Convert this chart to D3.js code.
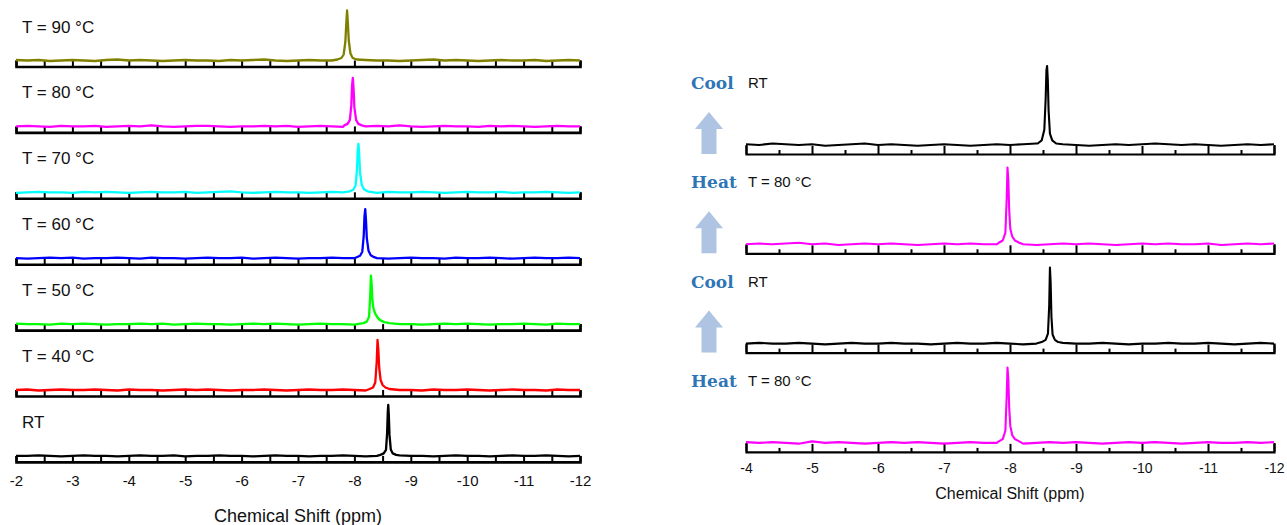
<!DOCTYPE html>
<html>
<head>
<meta charset="utf-8">
<script src="https://cdn.jsdelivr.net/npm/d3@7"></script>
<style>
  body { margin: 0; background: #fff; }
  text { font-family: "Liberation Sans", Arial, sans-serif; }
</style>
</head>
<body>
<div id="chart"></div>
<script>
var width = 1287,
  height = 525;

// ---- left stack: temperature series (ppm, relative intensity) ----
var leftLabels = ["T = 90 °C", "T = 80 °C", "T = 70 °C", "T = 60 °C", "T = 50 °C", "T = 40 °C", "RT"];
var leftColors = ["#808000", "#ff00ff", "#00ffff", "#0000ff", "#00ff00", "#ff0000", "#000000"];
var leftTicks = [-2, -3, -4, -5, -6, -7, -8, -9, -10, -11, -12];

var peak90 = [[-7.70,0.02],[-7.77,0.05],[-7.81,0.12],[-7.84,0.38],[-7.855,0.72],[-7.87,1.0],[-7.885,0.74],[-7.90,0.4],[-7.93,0.14],[-7.97,0.05],[-8.04,0.02]];
var peak80 = [[-7.82,0.02],[-7.88,0.05],[-7.92,0.13],[-7.945,0.42],[-7.958,0.8],[-7.972,0.97],[-7.985,0.75],[-8.0,0.38],[-8.03,0.13],[-8.07,0.05],[-8.13,0.02]];
var peak70 = [[-7.92,0.02],[-7.98,0.05],[-8.02,0.13],[-8.045,0.44],[-8.058,0.82],[-8.072,0.97],[-8.085,0.76],[-8.10,0.4],[-8.13,0.15],[-8.17,0.06],[-8.23,0.02]];
var peak60 = [[-8.04,0.02],[-8.10,0.05],[-8.14,0.13],[-8.165,0.44],[-8.178,0.82],[-8.192,0.98],[-8.205,0.76],[-8.22,0.4],[-8.25,0.15],[-8.29,0.06],[-8.35,0.02]];
var peak50 = [[-8.16,0.02],[-8.22,0.05],[-8.26,0.15],[-8.28,0.55],[-8.293,0.97],[-8.306,0.8],[-8.318,0.5],[-8.335,0.33],[-8.365,0.22],[-8.405,0.14],[-8.455,0.08],[-8.53,0.04],[-8.62,0.02]];
var peak40 = [[-8.27,0.02],[-8.33,0.05],[-8.37,0.15],[-8.395,0.55],[-8.41,1.0],[-8.425,0.8],[-8.44,0.44],[-8.465,0.2],[-8.50,0.1],[-8.55,0.05],[-8.62,0.02]];
var peakRT = [[-8.46,0.02],[-8.52,0.05],[-8.56,0.12],[-8.58,0.45],[-8.592,0.88],[-8.60,1.02],[-8.61,0.82],[-8.622,0.42],[-8.645,0.13],[-8.68,0.05],[-8.74,0.02]];

// baseline wiggle, percent of peak height, read every 0.2 ppm from -2 to -12
var noise90 = [1,0,1,-1,0,1,0,-1,1,2,0,1,0,-1,0,1,0,0,-1,1,0,1,2,0,-1,0,1,0,0,-1,0,1,0,0,-1,0,1,2,0,1,0,-1,0,1,0,0,1,-1,0,1,0];
var noise80 = [0,1,0,-1,1,0,0,1,-1,0,1,0,2,0,-1,0,1,1,0,-1,0,0,1,0,1,-1,0,1,0,-1,-1,0,1,0,2,0,-1,0,1,0,0,-1,1,0,1,0,-1,0,1,0,0];
var noise70 = [-1,0,1,0,0,-1,1,0,1,0,-1,0,1,0,0,1,-1,0,1,2,0,-1,0,1,0,0,-1,0,1,0,1,0,-1,1,0,0,1,0,-1,0,1,0,0,1,-1,0,0,1,0,-1,0];
var noise60 = [0,-1,0,1,0,1,-1,0,0,1,0,-1,1,0,0,-1,0,1,0,0,1,-1,0,1,0,-1,0,0,1,0,0,1,0,-1,0,1,0,0,-1,1,0,0,1,0,-1,0,1,0,0,1,0];
var noise50 = [1,0,0,-1,1,0,1,0,-1,0,0,1,0,1,-1,0,1,0,0,-1,0,1,0,1,0,-1,0,1,0,0,-1,1,0,1,0,0,-1,0,1,0,1,0,-1,0,0,1,0,-1,1,0,0];
var noise40 = [0,1,-1,0,1,0,0,1,0,-1,1,0,0,-1,0,1,0,1,0,-1,0,0,1,0,-1,0,1,0,0,1,0,-1,0,1,0,0,-1,1,0,0,1,0,-1,0,1,0,0,-1,1,0,0];
var noiseRT = [0,0,1,0,-1,0,1,0,0,-1,0,1,0,0,1,-1,0,0,1,0,0,-1,0,1,0,0,-1,0,0,1,0,-1,0,0,1,0,0,-1,0,1,0,0,-1,0,1,0,0,1,0,-1,0];

var leftPeaks = [peak90, peak80, peak70, peak60, peak50, peak40, peakRT];
var leftNoise = [noise90, noise80, noise70, noise60, noise50, noise40, noiseRT];

// ---- right stack: heat / cool cycle ----
var rightWords = ["Cool", "Heat", "Cool", "Heat"];
var rightLabels = ["RT", "T = 80 °C", "RT", "T = 80 °C"];
var rightColors = ["#000000", "#ff00ff", "#000000", "#ff00ff"];
var rightTicks = [-4, -5, -6, -7, -8, -9, -10, -11, -12];

var peakC1 = [[-8.42,0.02],[-8.48,0.06],[-8.52,0.2],[-8.54,0.6],[-8.552,0.98],[-8.562,1.04],[-8.573,0.85],[-8.585,0.45],[-8.605,0.15],[-8.64,0.06],[-8.70,0.02]];
var peakH1 = [[-7.83,0.02],[-7.89,0.05],[-7.93,0.15],[-7.95,0.6],[-7.962,1.01],[-7.975,0.85],[-7.988,0.45],[-8.005,0.2],[-8.035,0.1],[-8.075,0.05],[-8.14,0.02]];
var peakC2 = [[-8.48,0.02],[-8.54,0.05],[-8.575,0.13],[-8.594,0.5],[-8.605,1.0],[-8.616,0.8],[-8.628,0.35],[-8.645,0.12],[-8.68,0.05],[-8.73,0.02]];
var peakH2 = [[-7.83,0.02],[-7.89,0.05],[-7.93,0.16],[-7.95,0.62],[-7.962,0.99],[-7.975,0.84],[-7.988,0.46],[-8.005,0.22],[-8.035,0.1],[-8.075,0.05],[-8.14,0.02]];

// percent of peak height, every 0.2 ppm from -4 to -12
var noiseC1 = [1,0,2,1,0,1,-1,0,1,2,0,1,0,-1,0,1,0,-1,0,1,0,1,2,0,1,0,-1,0,1,0,1,2,1,0,1,0,-1,0,1,0,1];
var noiseH1 = [0,1,0,1,2,0,1,-1,0,1,0,1,0,-1,0,1,0,1,0,0,1,0,-1,0,1,0,1,0,-1,0,1,0,1,0,0,1,-1,0,1,0,1];
var noiseC2 = [0,1,0,0,1,0,-1,0,1,0,0,1,0,0,-1,0,1,0,0,1,0,-1,0,0,1,0,0,1,0,-1,0,0,1,0,0,1,0,-1,0,1,0];
var noiseH2 = [1,0,1,0,-1,2,0,1,0,-1,0,1,0,1,0,-1,0,1,0,0,1,-1,0,1,0,1,0,-1,0,1,0,1,0,-1,0,1,0,0,1,0,1];

var rightPeaks = [peakC1, peakH1, peakC2, peakH2];
var rightNoise = [noiseC1, noiseH1, noiseC2, noiseH2];

// merge the baseline wiggle with the peak points into one sorted trace
function buildTrace(noise, peak, from, to) {
  var step = (to - from) / (noise.length - 1);
  var hi = d3.max(peak, function(d) { return d[0]; });
  var lo = d3.min(peak, function(d) { return d[0]; });
  var pts = noise.map(function(v, i) { return [from + i * step, v / 100]; })
    .filter(function(d) { return d[0] > hi || d[0] < lo; });
  return pts.concat(peak).sort(function(a, b) { return b[0] - a[0]; });
}

var svg = d3.select("#chart").append("svg")
  .attr("width", width)
  .attr("height", height);

// ================= left panel =================
var xL = d3.scaleLinear().domain([-2, -12]).range([16, 580]);
var leftHalfTicks = d3.range(-2, -12.01, -0.5);

leftLabels.forEach(function(lab, i) {
  var axisY = 66.5 + i * 65.9;
  var y = d3.scaleLinear().domain([0, 1]).range([axisY - 6, axisY - 56]);
  var last = i == leftLabels.length - 1;

  var g = svg.append("g");

  var ax = g.append("g")
    .attr("transform", "translate(0," + axisY + ")")
    .call(d3.axisBottom(xL)
      .tickValues(leftHalfTicks)
      .tickSize(-6)
      .tickSizeOuter(-6)
      .tickPadding(13)
      .tickFormat(function(d) {
        // plain hyphen minus like the original figure
        return last && leftTicks.indexOf(d) >= 0 ? String(d) : "";
      }));
  ax.select(".domain").attr("stroke-width", 2.6);
  ax.selectAll(".tick line").attr("stroke-width", 2);
  ax.selectAll(".tick text").attr("font-size", 15).attr("fill", "#111")
    .style("font-family", "'Liberation Sans', Arial, sans-serif");

  var line = d3.line()
    .x(function(d) { return xL(d[0]); })
    .y(function(d) { return y(d[1]); });

  g.append("path")
    .datum(buildTrace(leftNoise[i], leftPeaks[i], -2, -12))
    .attr("d", line)
    .attr("fill", "none")
    .attr("stroke", leftColors[i])
    .attr("stroke-width", 2.3)
    .attr("stroke-linejoin", "round");

  g.append("text")
    .attr("x", 22)
    .attr("y", axisY - 34)
    .attr("font-size", 17)
    .attr("fill", "#111")
    .text(lab);
});

svg.append("text")
  .attr("x", 298)
  .attr("y", 522)
  .attr("text-anchor", "middle")
  .attr("font-size", 18)
  .attr("fill", "#111")
  .text("Chemical Shift (ppm)");

// ================= right panel =================
var xR = d3.scaleLinear().domain([-4, -12]).range([746, 1274]);
var rightHalfTicks = d3.range(-4.5, -12, -1);

rightWords.forEach(function(word, i) {
  var axisY = 154 + i * 99.3;
  var y = d3.scaleLinear().domain([0, 1]).range([axisY - 9, axisY - 85]);
  var last = i == rightWords.length - 1;

  var g = svg.append("g");

  var ax = g.append("g")
    .attr("transform", "translate(0," + axisY + ")")
    .call(d3.axisBottom(xR)
      .tickValues(rightTicks)
      .tickSize(-8)
      .tickSizeOuter(-9)
      .tickPadding(11)
      .tickFormat(function(d) { return last ? String(d) : ""; }));
  ax.select(".domain").attr("stroke-width", 2.2);
  ax.selectAll(".tick line").attr("stroke-width", 2);
  ax.selectAll(".tick text").attr("font-size", 14).attr("fill", "#111")
    .style("font-family", "'Liberation Sans', Arial, sans-serif");

  var minor = g.append("g")
    .attr("transform", "translate(0," + axisY + ")")
    .call(d3.axisBottom(xR).tickValues(rightHalfTicks).tickSize(-4).tickFormat(""));
  minor.select(".domain").remove();
  minor.selectAll(".tick line").attr("stroke-width", 2);

  var line = d3.line()
    .x(function(d) { return xR(d[0]); })
    .y(function(d) { return y(d[1]); });

  g.append("path")
    .datum(buildTrace(rightNoise[i], rightPeaks[i], -4, -12))
    .attr("d", line)
    .attr("fill", "none")
    .attr("stroke", rightColors[i])
    .attr("stroke-width", 2.1)
    .attr("stroke-linejoin", "round");

  g.append("text")
    .attr("x", 748)
    .attr("y", axisY - 66)
    .attr("font-size", 15)
    .attr("fill", "#111")
    .text(rightLabels[i]);

  g.append("text")
    .attr("x", 691)
    .attr("y", axisY - 65)
    .attr("font-size", 17)
    .attr("font-weight", "bold")
    .attr("fill", "#2e75b6")
    .style("font-family", "'DejaVu Serif', serif")
    .text(word);

  // light blue arrow pointing up to the next step
  if (!last) {
    var cx = 709, top = axisY - 42, bot = axisY;
    g.append("path")
      .attr("d", "M" + cx + "," + top +
        "L" + (cx + 14) + "," + (top + 17) +
        "L" + (cx + 7.5) + "," + (top + 17) +
        "L" + (cx + 7.5) + "," + bot +
        "L" + (cx - 7.5) + "," + bot +
        "L" + (cx - 7.5) + "," + (top + 17) +
        "L" + (cx - 14) + "," + (top + 17) + "Z")
      .attr("fill", "#aec4e2");
  }
});

svg.append("text")
  .attr("x", 1010)
  .attr("y", 499)
  .attr("text-anchor", "middle")
  .attr("font-size", 16)
  .attr("fill", "#111")
  .text("Chemical Shift (ppm)");
</script>
</body>
</html>
